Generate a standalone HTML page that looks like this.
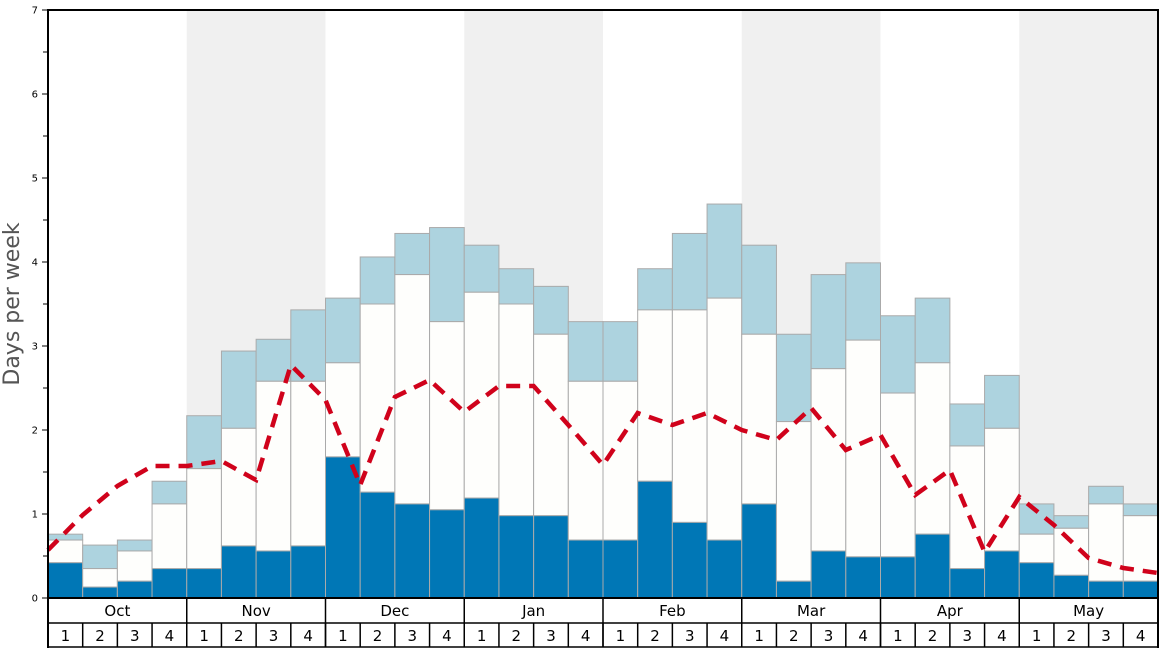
<!DOCTYPE html><html><head><meta charset="utf-8"><style>body{margin:0;background:#fff}svg{display:block;font-family:"DejaVu Sans","Liberation Sans",sans-serif}</style></head><body>
<svg id="s" width="1168" height="648" xmlns="http://www.w3.org/2000/svg"></svg>
<script>
const s=document.getElementById('s');let h='';
const X0=48,W=(1158-48)/32,Y=v=>598-v*84;
[1,3,5,7].forEach(m=>{h+=`<rect x="${X0+m*4*W}" y="10" width="${4*W}" height="588" fill="#f0f0f0"/>`});
const d=[[0.42,0.69,0.76],[0.13,0.35,0.63],[0.2,0.56,0.69],[0.35,1.12,1.39],[0.35,1.54,2.17],[0.62,2.02,2.94],[0.56,2.58,3.08],[0.62,2.58,3.43],[1.68,2.8,3.57],[1.26,3.5,4.06],[1.12,3.85,4.34],[1.05,3.29,4.41],[1.19,3.64,4.2],[0.98,3.5,3.92],[0.98,3.14,3.71],[0.69,2.58,3.29],[0.69,2.58,3.29],[1.39,3.43,3.92],[0.9,3.43,4.34],[0.69,3.57,4.69],[1.12,3.14,4.2],[0.2,2.1,3.14],[0.56,2.73,3.85],[0.49,3.07,3.99],[0.49,2.44,3.36],[0.76,2.8,3.57],[0.35,1.81,2.31],[0.56,2.02,2.65],[0.42,0.76,1.12],[0.27,0.83,0.98],[0.2,1.12,1.33],[0.2,0.98,1.12]];
d.forEach((b,i)=>{const x=X0+i*W;
h+=`<rect x="${x}" y="${Y(b[2])}" width="${W}" height="${(b[2]-b[1])*84}" fill="#add3df" stroke="#aaa" stroke-width="1"/>`;
h+=`<rect x="${x}" y="${Y(b[1])}" width="${W}" height="${(b[1]-b[0])*84}" fill="#fefefc" stroke="#aaa" stroke-width="1"/>`;
h+=`<rect x="${x}" y="${Y(b[0])}" width="${W}" height="${b[0]*84}" fill="#0077b6" stroke="#aaa" stroke-width="1"/>`;});
const ly=[550,515,486,466,466,461,480,365,400,485,397,380,412,386,386,425,465,413,425,413,430,440,408,450,435,495,470,552,497,525,558,568,573];
h+=`<polyline points="${ly.map((y,k)=>(X0+k*W)+','+y).join(' ')}" fill="none" stroke="#d0021b" stroke-width="4.5" stroke-dasharray="14,9"/>`;
for(let v=0;v<=7;v++){h+=`<line x1="42" x2="48" y1="${Y(v)}" y2="${Y(v)}" stroke="#000"/><text x="38" y="${Y(v)+3.5}" font-size="10" text-anchor="end">${v}</text>`;if(v<7)h+=`<line x1="43" x2="48" y1="${Y(v+.5)}" y2="${Y(v+.5)}" stroke="#000"/>`;}
h+=`<text transform="translate(19,304) rotate(-90)" font-size="22" fill="#555" text-anchor="middle">Days per week</text>`;
const M=['Oct','Nov','Dec','Jan','Feb','Mar','Apr','May'];
M.forEach((m,i)=>{const x=X0+i*4*W;h+=`<text x="${x+2*W}" y="616" font-size="15" text-anchor="middle">${m}</text><line x1="${x}" x2="${x}" y1="598" y2="647" stroke="#000" stroke-width="1.5"/>`;});
for(let i=0;i<32;i++){const x=X0+i*W;h+=`<text x="${x+W/2}" y="641" font-size="15" text-anchor="middle">${i%4+1}</text><line x1="${x}" x2="${x}" y1="623" y2="647" stroke="#000" stroke-width="1.5"/>`;}
h+=`<line x1="48" x2="1158" y1="623" y2="623" stroke="#000" stroke-width="1.5"/><line x1="48" x2="1158" y1="647" y2="647" stroke="#000" stroke-width="1.5"/>`;
h+=`<rect x="48" y="10" width="1110" height="588" fill="none" stroke="#000" stroke-width="2"/><line x1="1158" x2="1158" y1="598" y2="648" stroke="#000" stroke-width="2"/><line x1="48" x2="48" y1="598" y2="648" stroke="#000" stroke-width="2"/>`;
s.innerHTML=h;
</script></body></html>
